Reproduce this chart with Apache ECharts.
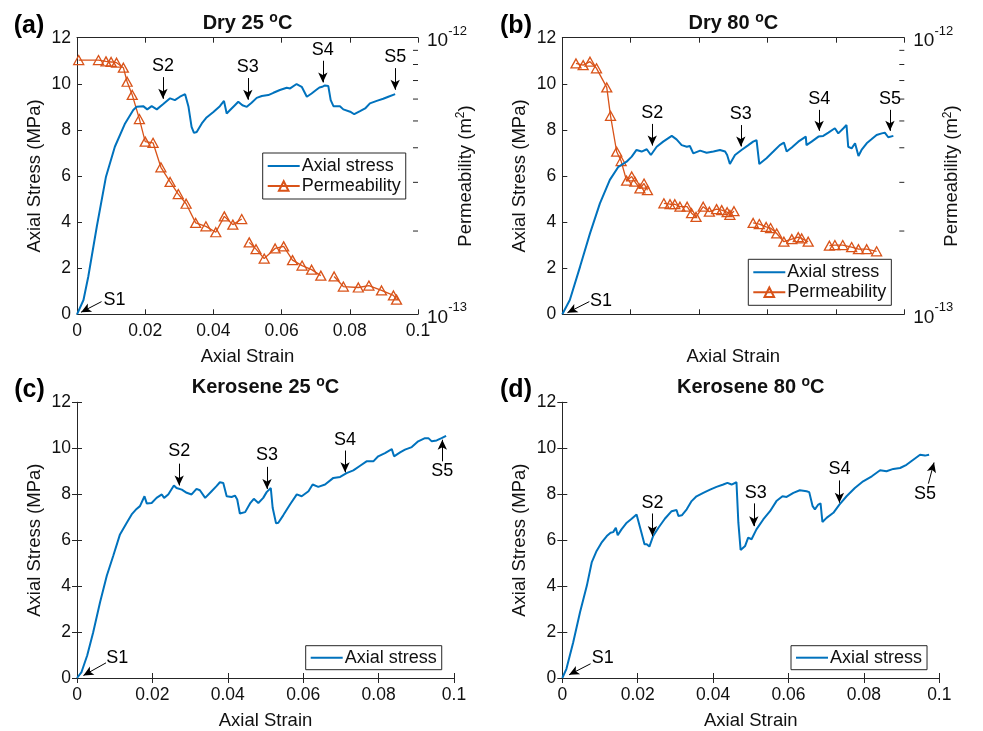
<!DOCTYPE html>
<html>
<head>
<meta charset="utf-8">
<script src="https://cdn.jsdelivr.net/npm/echarts@6/dist/echarts.min.js"></script>
<style>
  html, body { margin: 0; padding: 0; background: #fff; }
  #chart { width: 983px; height: 731px; }
</style>
</head>
<body>
<div id="chart"></div>
<script>
// ---- Dry 25 °C ----
const aStrain = [0, 0.0019, 0.0033, 0.0058, 0.0085, 0.0111, 0.0141, 0.0165, 0.0175, 0.0194, 0.0206, 0.0219, 0.0234, 0.0253, 0.0273, 0.0287, 0.0302, 0.0317, 0.0327, 0.0336, 0.0343, 0.0351, 0.0366, 0.0380, 0.0400, 0.0419, 0.0431, 0.0439, 0.0449, 0.0463, 0.0473, 0.0485, 0.0498, 0.0512, 0.0527, 0.0542, 0.0561, 0.0576, 0.0595, 0.0615, 0.0625, 0.0644, 0.0659, 0.0674, 0.0688, 0.0703, 0.0711, 0.0719, 0.0727, 0.0737, 0.0744, 0.0752, 0.0771, 0.0781, 0.0801, 0.0813, 0.0830, 0.0845, 0.0859, 0.0879, 0.0898, 0.0913, 0.0933];
const aStress = [0, 0.62, 1.63, 3.80, 5.97, 7.27, 8.28, 8.86, 9.00, 9.03, 8.89, 9.03, 8.89, 9.12, 9.37, 9.29, 9.44, 9.55, 9.00, 8.13, 7.87, 7.91, 8.28, 8.54, 8.78, 9.03, 9.26, 8.71, 8.86, 9.07, 9.22, 9.07, 9.00, 9.18, 9.39, 9.47, 9.51, 9.61, 9.73, 9.83, 9.80, 9.99, 9.87, 9.44, 9.58, 9.75, 9.84, 9.87, 9.93, 9.90, 9.29, 9.03, 9.03, 8.89, 8.79, 8.68, 8.81, 8.93, 9.15, 9.26, 9.35, 9.44, 9.55];
// null marks a break between measurement runs
const aPermStrain = [0.0005, 0.0063, 0.0085, 0.0100, 0.0116, 0.0136, 0.0147, 0.0162, 0.0183, 0.0200, 0.0223, 0.0246, 0.0273, 0.0297, 0.0320, 0.0348, 0.0378, 0.0407, 0.0432, 0.0457, 0.0483, null, 0.0505, 0.0525, 0.0549, 0.0581, 0.0606, 0.0632, 0.0660, 0.0688, 0.0715, null, 0.0754, 0.0781, 0.0825, 0.0856, 0.0893, 0.0928, 0.0937];
const aPermK = [8.30e-13, 8.30e-13, 8.21e-13, 8.17e-13, 8.12e-13, 7.79e-13, 6.93e-13, 6.21e-13, 5.08e-13, 4.21e-13, 4.17e-13, 3.40e-13, 3.01e-13, 2.72e-13, 2.51e-13, 2.14e-13, 2.08e-13, 1.98e-13, 2.26e-13, 2.11e-13, 2.21e-13, null, 1.82e-13, 1.72e-13, 1.59e-13, 1.73e-13, 1.76e-13, 1.57e-13, 1.50e-13, 1.45e-13, 1.38e-13, null, 1.37e-13, 1.26e-13, 1.25e-13, 1.27e-13, 1.22e-13, 1.17e-13, 1.13e-13];

// ---- Dry 80 °C ----
const bStrain = [0, 0.0022, 0.0052, 0.0081, 0.0110, 0.0139, 0.0164, 0.0188, 0.0203, 0.0217, 0.0232, 0.0247, 0.0259, 0.0276, 0.0295, 0.0320, 0.0334, 0.0349, 0.0364, 0.0373, 0.0383, 0.0403, 0.0422, 0.0442, 0.0461, 0.0476, 0.0482, 0.0490, 0.0505, 0.0524, 0.0544, 0.0558, 0.0568, 0.0576, 0.0597, 0.0617, 0.0636, 0.0648, 0.0656, 0.0671, 0.0690, 0.0712, 0.0714, 0.0729, 0.0749, 0.0763, 0.0778, 0.0797, 0.0807, 0.0822, 0.0831, 0.0836, 0.0846, 0.0856, 0.0866, 0.0875, 0.0890, 0.0904, 0.0919, 0.0934, 0.0943, 0.0953, 0.0968];
const bStress = [0, 0.62, 2.07, 3.51, 4.81, 5.83, 6.40, 6.62, 6.84, 7.13, 7.06, 7.16, 6.91, 7.27, 7.49, 7.74, 7.59, 7.34, 7.27, 7.30, 6.98, 7.10, 7.01, 7.06, 7.13, 7.06, 6.91, 6.52, 6.91, 7.13, 7.34, 7.49, 7.56, 6.52, 6.77, 7.06, 7.34, 7.45, 7.06, 7.24, 7.49, 7.71, 7.34, 7.49, 7.71, 7.74, 7.88, 8.07, 7.85, 8.07, 8.21, 7.27, 7.20, 7.42, 6.87, 7.13, 7.42, 7.59, 7.78, 7.85, 7.88, 7.68, 7.74];
const bPermStrain = [0.0040, 0.0061, 0.0081, 0.0100, 0.0130, 0.0141, 0.0159, 0.0172, 0.0188, 0.0203, 0.0212, 0.0227, 0.0239, 0.0249, null, 0.0297, 0.0315, 0.0329, 0.0344, 0.0365, 0.0378, 0.0391, 0.0412, 0.0430, 0.0451, 0.0466, 0.0482, 0.0490, 0.0502, null, 0.0558, 0.0576, 0.0596, 0.0609, 0.0627, 0.0648, 0.0671, 0.0690, 0.0700, 0.0719, null, 0.0781, 0.0797, 0.0820, 0.0846, 0.0866, 0.0890, 0.0919];
const bPermK = [8.07e-13, 7.96e-13, 8.19e-13, 7.75e-13, 6.61e-13, 5.22e-13, 3.87e-13, 3.58e-13, 3.04e-13, 3.15e-13, 3.02e-13, 2.85e-13, 2.97e-13, 2.81e-13, null, 2.52e-13, 2.50e-13, 2.50e-13, 2.45e-13, 2.45e-13, 2.32e-13, 2.25e-13, 2.45e-13, 2.35e-13, 2.40e-13, 2.38e-13, 2.34e-13, 2.29e-13, 2.36e-13, null, 2.14e-13, 2.12e-13, 2.07e-13, 2.05e-13, 1.96e-13, 1.83e-13, 1.87e-13, 1.90e-13, 1.88e-13, 1.83e-13, null, 1.77e-13, 1.78e-13, 1.78e-13, 1.75e-13, 1.72e-13, 1.72e-13, 1.69e-13];

// ---- Kerosene 25 °C ----
const cStrain = [0, 0.0012, 0.0027, 0.0043, 0.0061, 0.0079, 0.0096, 0.0114, 0.0132, 0.0145, 0.0158, 0.0167, 0.0179, 0.0185, 0.0198, 0.0211, 0.0225, 0.0231, 0.0242, 0.0257, 0.0264, 0.0278, 0.0291, 0.0304, 0.0317, 0.0326, 0.0340, 0.0357, 0.0370, 0.0379, 0.0388, 0.0397, 0.0410, 0.0419, 0.0425, 0.0432, 0.0446, 0.0459, 0.0469, 0.0481, 0.0494, 0.0503, 0.0514, 0.0519, 0.0528, 0.0534, 0.0547, 0.0565, 0.0583, 0.0596, 0.0614, 0.0625, 0.0640, 0.0658, 0.0680, 0.0698, 0.0715, 0.0733, 0.0751, 0.0768, 0.0786, 0.0799, 0.0817, 0.0835, 0.0841, 0.0857, 0.0870, 0.0888, 0.0905, 0.0923, 0.0932, 0.0941, 0.0954, 0.0967, 0.0979];
const cStress = [0, 0.26, 0.98, 1.99, 3.29, 4.45, 5.31, 6.25, 6.76, 7.12, 7.36, 7.48, 7.91, 7.60, 7.62, 7.84, 7.99, 7.84, 7.99, 8.38, 8.27, 8.20, 8.06, 7.99, 8.23, 8.17, 7.84, 8.13, 8.35, 8.52, 8.49, 7.91, 7.88, 7.94, 7.77, 7.16, 7.22, 7.60, 7.80, 7.62, 7.84, 8.09, 8.27, 7.41, 6.73, 6.76, 7.08, 7.55, 7.99, 7.91, 8.13, 8.42, 8.32, 8.42, 8.71, 8.75, 8.92, 9.04, 9.24, 9.43, 9.43, 9.65, 9.79, 9.96, 9.65, 9.82, 9.94, 10.05, 10.30, 10.44, 10.44, 10.30, 10.34, 10.44, 10.54];

// ---- Kerosene 80 °C ----
const dStrain = [0, 0.0011, 0.0029, 0.0047, 0.0065, 0.0078, 0.0091, 0.0104, 0.0118, 0.0128, 0.0135, 0.0142, 0.0147, 0.0157, 0.0171, 0.0184, 0.0197, 0.0202, 0.0210, 0.0218, 0.0224, 0.0231, 0.0241, 0.0255, 0.0272, 0.0290, 0.0303, 0.0308, 0.0317, 0.0330, 0.0343, 0.0356, 0.0374, 0.0392, 0.0409, 0.0427, 0.0438, 0.0449, 0.0462, 0.0467, 0.0473, 0.0485, 0.0493, 0.0502, 0.0515, 0.0533, 0.0551, 0.0568, 0.0584, 0.0595, 0.0613, 0.0630, 0.0648, 0.0655, 0.0664, 0.0670, 0.0679, 0.0685, 0.0690, 0.0701, 0.0719, 0.0735, 0.0754, 0.0776, 0.0798, 0.0821, 0.0843, 0.0860, 0.0878, 0.0896, 0.0913, 0.0931, 0.0949, 0.0962, 0.0973];
const dStress = [0, 0.40, 1.56, 2.86, 4.01, 5.03, 5.53, 5.89, 6.18, 6.32, 6.35, 6.54, 6.21, 6.47, 6.76, 6.93, 7.12, 7.05, 6.32, 5.82, 5.82, 5.72, 6.18, 6.54, 6.93, 7.26, 7.31, 7.05, 7.08, 7.34, 7.70, 7.91, 8.06, 8.20, 8.32, 8.42, 8.49, 8.42, 8.52, 6.76, 5.57, 5.75, 6.11, 6.04, 6.47, 6.90, 7.26, 7.70, 7.91, 7.88, 8.06, 8.17, 8.13, 8.09, 7.48, 7.34, 7.55, 7.60, 6.79, 6.97, 7.19, 7.55, 7.91, 8.27, 8.56, 8.78, 9.04, 9.00, 9.10, 9.14, 9.28, 9.50, 9.72, 9.68, 9.72];

// ---- axis ticks ----
const strainTicks = [0, 0.02, 0.04, 0.06, 0.08, 0.1];
const stressTicks = [0, 2, 4, 6, 8, 10, 12];
const permRange = [1e-13, 1e-12];
const permMinorTicks = [2e-13, 3e-13, 4e-13, 5e-13, 6e-13, 7e-13, 8e-13, 9e-13];

// ---- stage annotations (S1..S5): text anchor, arrow tail -> arrow tip, in data units ----
const stageNames = ['S1', 'S2', 'S3', 'S4', 'S5'];
const annotA = {
  text: [[0.0110, 0.62], [0.0252, 10.78], [0.0501, 10.72], [0.0721, 11.46], [0.0933, 11.17]],
  arrows: [[[0.0072, 0.55], [0.0012, 0.09]], [[0.0252, 10.29], [0.0252, 9.35]], [[0.0501, 10.25], [0.0501, 9.31]], [[0.0721, 11.0], [0.0721, 10.06]], [[0.0933, 10.68], [0.0933, 9.74]]]
};
const annotB = {
  text: [[0.0113, 0.58], [0.0263, 8.73], [0.0522, 8.70], [0.0751, 9.36], [0.0958, 9.36]],
  arrows: [[[0.0079, 0.55], [0.0015, 0.07]], [[0.0263, 8.26], [0.0263, 7.32]], [[0.0522, 8.21], [0.0522, 7.28]], [[0.0751, 8.87], [0.0751, 7.96]], [[0.0958, 8.87], [0.0958, 7.96]]]
};
const annotC = {
  text: [[0.0107, 0.87], [0.0271, 9.86], [0.0504, 9.69], [0.0711, 10.37], [0.0969, 9.0]],
  arrows: [[[0.0077, 0.66], [0.0017, 0.11]], [[0.0271, 9.33], [0.0271, 8.38]], [[0.0504, 9.19], [0.0504, 8.23]], [[0.0711, 9.90], [0.0711, 8.95]], [[0.0969, 9.43], [0.0969, 10.37]]]
};
const annotD = {
  text: [[0.0107, 0.87], [0.0239, 7.63], [0.0513, 8.06], [0.0735, 9.10], [0.0962, 7.99]],
  arrows: [[[0.0075, 0.62], [0.0018, 0.14]], [[0.0239, 7.16], [0.0239, 6.18]], [[0.0508, 7.60], [0.0508, 6.61]], [[0.0735, 8.60], [0.0735, 7.63]], [[0.0971, 8.46], [0.0986, 9.38]]]
};

// ---- styling ----
const FONT = "'Liberation Sans', Arial, Helvetica, sans-serif";
const TXT = '#111';
const AXIS = '#262626';
const BLUE = '#0072BD';
const ORANGE = '#D95319';

const panels = [
  { tag: '(a)', title: 'Dry 25 ', grid: { left: 77, top: 37.7, width: 341, height: 276.6 },
    x: aStrain, y: aStress, px: aPermStrain, pk: aPermK, xLabels: true,
    legend: { left: 262.7, top: 153 }, annot: annotA, tagPos: [29, 26], titlePos: [247.5, 23.5] },
  { tag: '(b)', title: 'Dry 80 ', grid: { left: 562.3, top: 37.7, width: 342, height: 276.6 },
    x: bStrain, y: bStress, px: bPermStrain, pk: bPermK, xLabels: false,
    legend: { left: 748.3, top: 259.3 }, annot: annotB, tagPos: [516, 26], titlePos: [733.3, 23.5] },
  { tag: '(c)', title: 'Kerosene 25 ', grid: { left: 77, top: 402.3, width: 377, height: 277 },
    x: cStrain, y: cStress, px: null, pk: null, xLabels: true,
    legend: { left: 305.7, top: 645.7 }, annot: annotC, tagPos: [29.5, 390], titlePos: [265.5, 387.5] },
  { tag: '(d)', title: 'Kerosene 80 ', grid: { left: 562.3, top: 402.3, width: 377, height: 277 },
    x: dStrain, y: dStress, px: null, pk: null, xLabels: true,
    legend: { left: 791, top: 645.7 }, annot: annotD, tagPos: [516, 390], titlePos: [750.8, 387.5] }
];

const pairs = (xs, ys) => xs.map((v, i) => (v === null || ys[i] === null) ? ['-', '-'] : [v, ys[i]]);

const grids = [], xAxes = [], yAxes = [], series = [], legends = [], graphics = [];
const tickStyle = { show: true, inside: true, length: 5, lineStyle: { color: AXIS, width: 1 } };
const lineStyleAxis = { show: true, lineStyle: { color: AXIS, width: 1 } };

panels.forEach((p, i) => {
  grids.push(Object.assign({ containLabel: false }, p.grid));
  const xMin = strainTicks[0], xMax = strainTicks[strainTicks.length - 1];
  const yMin = stressTicks[0], yMax = stressTicks[stressTicks.length - 1];

  // bottom strain axis
  xAxes.push({
    gridIndex: i, type: 'value', position: 'bottom', min: xMin, max: xMax, interval: strainTicks[1] - strainTicks[0],
    name: 'Axial Strain', nameLocation: 'middle', nameGap: 33, nameMoveOverlap: false,
    nameTextStyle: { fontSize: 18.5, fontFamily: FONT, color: TXT },
    axisLine: lineStyleAxis, axisTick: tickStyle, splitLine: { show: false },
    axisLabel: { show: p.xLabels, fontSize: 17.5, fontFamily: FONT, color: TXT, margin: 8, showMinLabel: true, showMaxLabel: true }
  });
  // top mirror axis (box)
  xAxes.push({
    gridIndex: i, type: 'value', position: 'top', min: xMin, max: xMax, interval: strainTicks[1] - strainTicks[0],
    axisLine: lineStyleAxis, axisTick: tickStyle, axisLabel: { show: false }, splitLine: { show: false }
  });
  // left stress axis
  yAxes.push({
    gridIndex: i, type: 'value', position: 'left', min: yMin, max: yMax, interval: stressTicks[1] - stressTicks[0],
    name: 'Axial Stress (MPa)', nameLocation: 'middle', nameGap: 33, nameRotate: 90, nameMoveOverlap: false,
    nameTextStyle: { fontSize: 18.5, fontFamily: FONT, color: TXT },
    axisLine: lineStyleAxis, axisTick: tickStyle, splitLine: { show: false },
    axisLabel: { fontSize: 17.5, fontFamily: FONT, color: TXT, margin: 6 }
  });
  if (p.px) {
    // right permeability axis (log)
    yAxes.push({
      gridIndex: i, type: 'log', logBase: 10, position: 'right', min: permRange[0], max: permRange[1],
      name: 'Permeability (m{e|2})', nameLocation: 'middle', nameGap: 37, nameRotate: 90, nameMoveOverlap: false,
      nameTextStyle: { fontSize: 18.5, fontFamily: FONT, color: TXT, lineHeight: 22,
        rich: { e: { fontSize: 12, fontFamily: FONT, color: TXT, verticalAlign: 'top', lineHeight: 12 } } },
      axisLine: lineStyleAxis, axisTick: { show: false }, splitLine: { show: false },
      axisLabel: {
        margin: 9,
        formatter: v => '{b|10}{e|' + Math.round(Math.log10(v)) + '}',
        rich: {
          b: { fontSize: 19, fontFamily: FONT, color: TXT, lineHeight: 26, verticalAlign: 'bottom' },
          e: { fontSize: 13, fontFamily: FONT, color: TXT, lineHeight: 14, verticalAlign: 'top' }
        }
      }
    });
  } else {
    // right mirror axis (box)
    yAxes.push({
      gridIndex: i, type: 'value', position: 'right', min: yMin, max: yMax, interval: stressTicks[1] - stressTicks[0],
      axisLine: lineStyleAxis, axisTick: tickStyle, axisLabel: { show: false }, splitLine: { show: false }
    });
  }

  // axial stress curve with stage arrows
  series.push({
    name: 'Axial stress', type: 'line', xAxisIndex: 2 * i, yAxisIndex: 2 * i,
    data: pairs(p.x, p.y), symbol: 'none', smooth: false, z: 3,
    lineStyle: { color: BLUE, width: 2 }, itemStyle: { color: BLUE },
    markLine: {
      silent: true, animation: false, symbol: ['none', 'arrow'], symbolSize: [7, 10],
      lineStyle: { color: '#000', width: 1, type: 'solid' },
      label: { show: false }, emphasis: { disabled: true },
      data: p.annot.arrows.map(a => [{ coord: a[0] }, { coord: a[1] }])
    }
  });

  if (p.px) {
    series.push({
      name: 'Permeability', type: 'line', xAxisIndex: 2 * i, yAxisIndex: 2 * i + 1,
      data: pairs(p.px, p.pk), connectNulls: false, z: 2,
      symbol: 'triangle', symbolSize: [10, 9],
      lineStyle: { color: ORANGE, width: 1.3 },
      itemStyle: { color: 'rgba(255,255,255,0)', borderColor: ORANGE, borderWidth: 1.3 }
    });
    // minor ticks of the log axis
    series.push({
      name: 'permMinor', type: 'custom', xAxisIndex: 2 * i, yAxisIndex: 2 * i + 1, silent: true,
      data: permMinorTicks.map(v => [xMax, v]),
      renderItem: (params, api) => {
        const pt = api.coord([api.value(0), api.value(1)]);
        return { type: 'line', shape: { x1: pt[0] - 5, y1: pt[1], x2: pt[0], y2: pt[1] },
                 style: { stroke: AXIS, lineWidth: 1 } };
      }
    });
  }

  // stage labels
  series.push({
    name: 'stages', type: 'scatter', xAxisIndex: 2 * i, yAxisIndex: 2 * i, silent: true, z: 5,
    symbolSize: 1, itemStyle: { color: 'rgba(0,0,0,0)', opacity: 1 },
    data: p.annot.text.map((t, k) => ({ name: stageNames[k], value: t })),
    label: { show: true, position: 'inside', formatter: '{b}', fontSize: 18, fontFamily: FONT, color: '#000', opacity: 1 }
  });

  legends.push({
    orient: 'vertical', left: p.legend.left, top: p.legend.top, selectedMode: false,
    data: p.px
      ? [{ name: 'Axial stress', itemStyle: { opacity: 0 } }, 'Permeability']
      : [{ name: 'Axial stress', itemStyle: { opacity: 0 } }],
    backgroundColor: '#fff', borderColor: AXIS, borderWidth: 1, borderRadius: 0,
    padding: p.px ? [3, 5, 3, 4] : [2, 5, 2, 4], itemGap: 0, itemWidth: 32, itemHeight: 12,
    textStyle: { fontSize: 18, fontFamily: FONT, color: TXT, lineHeight: 20, padding: [0, 0, 0, -3] }
  });

  graphics.push({
    type: 'text', x: p.titlePos[0], y: p.titlePos[1], silent: true,
    style: {
      text: '{t|' + p.title + '}{s|o}{t|C}', align: 'center', verticalAlign: 'middle',
      rich: {
        t: { fontSize: 20, fontWeight: 'bold', fontFamily: FONT, fill: TXT, color: TXT, lineHeight: 24 },
        s: { fontSize: 14, fontWeight: 'bold', fontFamily: FONT, fill: TXT, color: TXT, lineHeight: 12, verticalAlign: 'top' }
      }
    }
  });
  graphics.push({
    type: 'text', x: p.tagPos[0], y: p.tagPos[1], silent: true,
    style: { text: p.tag, align: 'center', verticalAlign: 'middle', fontSize: 25, fontWeight: 'bold', fontFamily: FONT, fill: '#000' }
  });
});

const chart = echarts.init(document.getElementById('chart'), null, { renderer: 'canvas' });
chart.setOption({
  animation: false,
  backgroundColor: '#fff',
  grid: grids,
  xAxis: xAxes,
  yAxis: yAxes,
  legend: legends,
  series: series,
  graphic: graphics
});
</script>
</body>
</html>
